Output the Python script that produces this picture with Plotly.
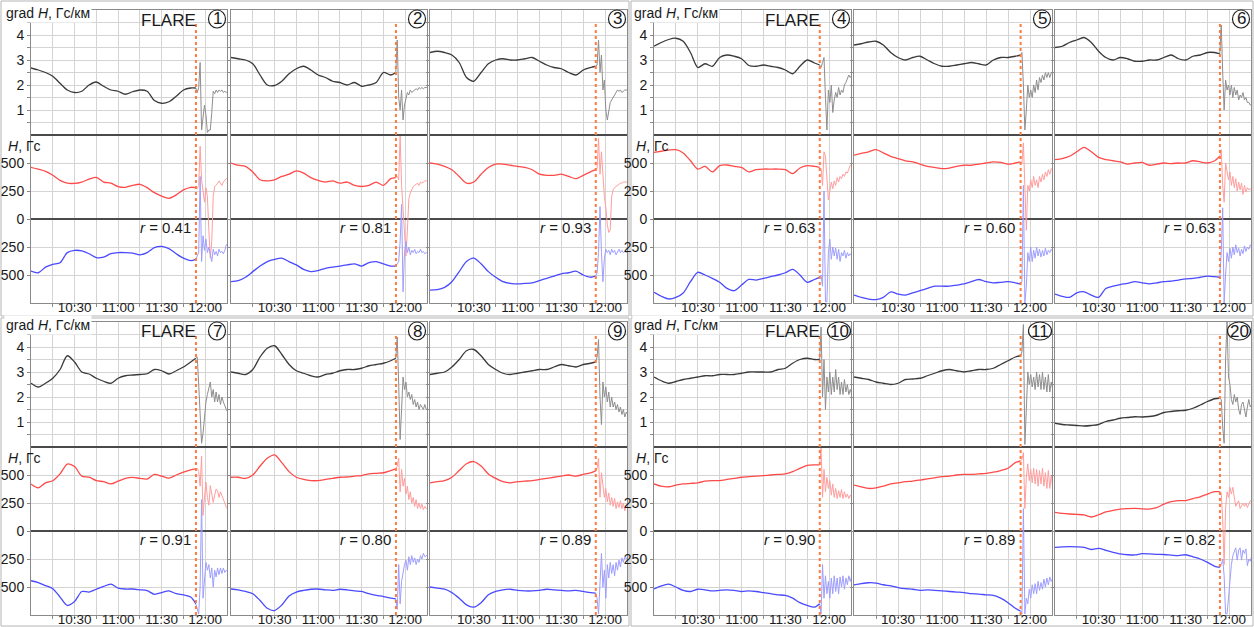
import plotly.graph_objects as go

W, H = 1254, 627

# ---------------------------------------------------------------- data
PANEL_IDS = ["1", "2", "3", "4", "5", "6", "7", "8", "9", "10", "11", "20"]
R_VALUES = ["0.41", "0.81", "0.93", "0.63", "0.60", "0.63",
            "0.91", "0.80", "0.89", "0.90", "0.89", "0.82"]
FLARE_PANELS = ["1", "4", "7", "10"]

# minutes after 10:00
FLARE_T = 113.6
T_PRE = [0, 5, 10, 15, 20, 25, 30, 35, 40, 45, 50, 55, 60, 65, 70, 75, 80,
         85, 90, 95, 100, 105, 110, 113.5]
T_POST = [113.5, 114.5, 115.5, 116.5, 117.5, 118.5, 119.5, 120.5, 121.5,
          122.5, 123.5, 124.5, 125.5, 126.5, 127.5, 128.5, 129.5, 130.5,
          131.5, 132.5, 133.5, 134.5, 135.5]
X_TICKS = [15, 30, 45, 60, 75, 90, 105, 120]
X_TICK_TEXT = ["", "10:30", "", "11:00", "", "11:30", "", "12:00"]

# grad H, G/km
GRAD_PRE = [
    [2.68, 2.6, 2.5, 2.35, 2.07, 1.8, 1.7, 1.75, 2.0, 2.12, 1.95, 1.8, 1.75, 1.63, 1.73, 1.8, 1.75, 1.38, 1.27, 1.33, 1.55, 1.8, 1.88, 1.88],
    [3.1, 3.05, 3.0, 2.85, 2.4, 2.0, 1.98, 2.15, 2.45, 2.65, 2.75, 2.6, 2.4, 2.3, 2.15, 2.1, 2.0, 2.1, 1.95, 2.0, 2.1, 2.5, 2.4, 2.5],
    [3.3, 3.35, 3.3, 3.2, 2.9, 2.3, 2.15, 2.5, 2.85, 3.0, 3.05, 3.0, 3.0, 3.05, 3.1, 2.95, 2.8, 2.7, 2.65, 2.5, 2.4, 2.6, 2.7, 2.75],
    [3.55, 3.7, 3.82, 3.87, 3.75, 3.3, 2.7, 2.85, 2.75, 3.1, 3.2, 3.15, 3.05, 2.78, 2.75, 2.8, 2.75, 2.7, 2.6, 2.45, 2.75, 3.0, 2.88, 2.8],
    [3.6, 3.65, 3.72, 3.75, 3.6, 3.3, 3.1, 3.0, 3.1, 3.15, 3.0, 2.85, 2.75, 2.75, 2.8, 2.85, 2.9, 2.85, 2.8, 3.0, 3.1, 3.1, 3.15, 3.2],
    [3.5, 3.55, 3.7, 3.8, 3.9, 3.7, 3.35, 3.1, 3.0, 3.1, 3.05, 2.95, 2.95, 3.0, 3.0, 3.1, 3.2, 3.05, 3.0, 3.15, 3.2, 3.3, 3.3, 3.25],
    [2.55, 2.4, 2.55, 2.75, 3.1, 3.65, 3.4, 3.0, 2.92, 2.75, 2.63, 2.55, 2.75, 2.85, 2.88, 2.9, 2.93, 3.1, 3.05, 2.92, 3.05, 3.2, 3.4, 3.55],
    [3.0, 2.95, 2.9, 3.1, 3.6, 3.95, 4.05, 3.7, 3.3, 3.05, 2.95, 2.85, 2.8, 2.9, 2.95, 3.05, 3.1, 3.1, 3.15, 3.25, 3.3, 3.35, 3.45, 3.55],
    [2.9, 2.95, 3.0, 3.2, 3.5, 3.85, 3.9, 3.65, 3.3, 3.1, 2.95, 2.9, 2.95, 3.0, 3.05, 3.1, 3.1, 3.2, 3.3, 3.25, 3.2, 3.3, 3.35, 3.4],
    [2.8, 2.65, 2.55, 2.62, 2.7, 2.75, 2.8, 2.85, 2.85, 2.9, 2.9, 2.9, 2.95, 3.0, 3.0, 3.0, 3.0, 3.1, 3.15, 3.35, 3.5, 3.55, 3.5, 3.5],
    [2.8, 2.75, 2.7, 2.6, 2.55, 2.5, 2.55, 2.7, 2.72, 2.75, 2.85, 2.95, 3.05, 3.1, 3.05, 3.0, 3.05, 3.1, 3.1, 3.15, 3.3, 3.45, 3.6, 3.65],
    [0.95, 0.9, 0.88, 0.86, 0.84, 0.86, 0.9, 1.02, 1.08, 1.15, 1.18, 1.21, 1.2, 1.22, 1.27, 1.38, 1.42, 1.45, 1.47, 1.55, 1.68, 1.82, 1.93, 1.95],
]
GRAD_POST = [
    [1.88, 1.7, 1.9, 2.9, 0.2, 0.6, 1.2, 0.8, 0.1, 0.2, 0.2, 0.9, 1.75, 1.65, 1.8, 1.7, 1.8, 1.75, 1.8, 1.7, 1.75, 1.7, 1.75],
    [2.5, 3.8, 1.5, 1.0, 1.8, 0.6, 1.2, 1.5, 1.7, 1.6, 1.8, 1.7, 1.75, 1.8, 1.85, 1.8, 1.9, 1.85, 1.9, 1.85, 1.9, 1.9, 1.9],
    [2.75, 2.8, 3.8, 2.5, 3.2, 1.8, 2.2, 1.0, 0.6, 1.0, 1.3, 1.4, 1.5, 1.6, 1.7, 1.8, 1.75, 1.8, 1.7, 1.75, 1.8, 1.8, 1.8],
    [2.8, 2.7, 2.9, 3.1, 1.5, 0.2, 1.8, 1.3, 2.0, 0.9, 1.4, 1.7, 1.5, 1.9, 1.6, 1.8, 1.7, 2.0, 2.1, 2.3, 2.4, 2.3, 2.4],
    [3.2, 3.3, 2.0, 0.2, 1.0, 2.0, 1.5, 1.8, 1.5, 2.0, 1.7, 2.2, 1.8, 2.3, 2.1, 2.4, 2.2, 2.5, 2.3, 2.5, 2.3, 2.5, 2.5],
    [3.25, 4.4, 2.5, 1.0, 2.2, 1.8, 2.0, 1.6, 2.0, 1.5, 1.9, 1.6, 1.8, 1.4, 1.6, 1.5, 1.7, 1.4, 1.5, 1.3, 1.3, 1.2, 1.2],
    [3.55, 3.6, 2.5, 1.0, 0.15, 0.55, 1.2, 1.8, 2.1, 2.3, 2.6, 2.0, 2.3, 1.8, 2.2, 1.8, 2.1, 1.7, 2.0, 1.8, 1.6, 1.5, 1.4],
    [3.55, 4.4, 2.5, 0.3, 1.5, 2.8, 2.3, 2.6, 2.0, 2.2, 1.9, 2.1, 1.7, 1.9, 1.6, 1.8, 1.5, 1.7, 1.6, 1.5, 1.7, 1.5, 1.5],
    [3.4, 3.6, 4.3, 2.0, 0.9, 2.6, 2.0, 2.4, 1.8, 2.2, 1.6, 2.0, 1.6, 1.8, 1.5, 1.7, 1.4, 1.6, 1.3, 1.5, 1.2, 1.4, 1.3],
    [3.5, 4.8, 2.0, 3.5, 1.5, 2.8, 2.2, 3.0, 2.1, 2.8, 2.2, 3.1, 2.3, 2.8, 2.1, 2.6, 2.1, 2.7, 2.2, 2.5, 2.1, 2.3, 2.1],
    [3.65, 3.8, 4.9, 0.1, 1.5, 3.0, 2.5, 2.9, 2.4, 2.8, 2.3, 3.0, 2.4, 2.9, 2.3, 3.0, 2.3, 2.8, 2.2, 2.9, 2.2, 2.6, 2.3],
    [1.95, 1.9, 0.8, 0.15, 3.5, 5.0, 2.8, 2.5, 1.9, 1.7, 2.1, 1.8, 2.0, 1.5, 1.3, 1.7, 1.8, 1.4, 1.2, 1.6, 1.9, 1.6, 1.7],
]

# positive-polarity field H, G
RED_PRE = [
    [462, 445, 425, 390, 345, 320, 318, 330, 355, 372, 330, 320, 290, 283, 300, 310, 280, 235, 205, 185, 215, 260, 283, 280],
    [500, 480, 470, 420, 350, 340, 350, 380, 400, 430, 410, 370, 345, 330, 340, 320, 330, 300, 290, 300, 330, 300, 360, 370],
    [500, 490, 470, 440, 380, 320, 330, 400, 460, 490, 490, 480, 470, 460, 440, 400, 390, 390, 400, 380, 360, 390, 420, 440],
    [595, 605, 615, 619, 590, 520, 446, 470, 420, 476, 482, 470, 460, 420, 440, 446, 446, 446, 440, 405, 455, 476, 470, 461],
    [570, 585, 600, 620, 590, 560, 540, 520, 510, 490, 470, 460, 450, 455, 470, 480, 480, 490, 500, 510, 505, 490, 500, 510],
    [530, 540, 560, 600, 640, 600, 550, 530, 520, 510, 490, 500, 505, 480, 490, 500, 495, 500, 500, 520, 510, 500, 520, 560],
    [420, 385, 430, 449, 510, 598, 575, 490, 480, 450, 440, 420, 445, 470, 478, 470, 464, 505, 490, 472, 500, 525, 545, 554],
    [480, 480, 470, 500, 580, 650, 680, 610, 530, 480, 460, 450, 450, 460, 470, 480, 482, 490, 495, 510, 515, 520, 540, 555],
    [430, 440, 450, 480, 540, 600, 620, 580, 510, 470, 440, 430, 440, 445, 450, 460, 470, 480, 490, 500, 490, 505, 520, 535],
    [420, 400, 395, 410, 420, 425, 430, 445, 450, 450, 460, 470, 480, 485, 490, 495, 500, 505, 510, 530, 560, 585, 590, 590],
    [410, 395, 380, 385, 400, 420, 430, 440, 446, 455, 465, 475, 485, 490, 500, 505, 505, 510, 515, 525, 540, 560, 610, 625],
    [167, 158, 152, 148, 143, 125, 145, 170, 185, 196, 200, 202, 198, 196, 208, 240, 262, 271, 272, 290, 305, 330, 351, 351],
]
RED_POST = [
    [280, 270, 300, 650, 350, 250, 150, 280, 200, -100, -350, -200, 200, 290, 300, 320, 340, 320, 300, 330, 350, 360, 370],
    [370, 380, 350, 740, 300, 100, -200, -330, -100, 180, 230, 260, 290, 300, 310, 320, 300, 330, 320, 330, 340, 340, 340],
    [440, 450, 720, 400, 600, 350, 200, 100, -50, -120, -100, 200, 260, 280, 290, 300, 310, 320, 320, 330, 330, 330, 340],
    [461, 450, 300, 600, 560, 300, 170, 250, 330, 270, 340, 300, 370, 330, 380, 360, 400, 380, 420, 410, 450, 480, 480],
    [510, 500, 680, 200, -100, 300, 250, 350, 280, 380, 300, 350, 280, 380, 330, 400, 350, 420, 380, 440, 400, 450, 430],
    [560, 620, 300, 150, 500, 400, 350, 420, 300, 380, 280, 360, 250, 330, 260, 320, 220, 300, 240, 280, 260, 270, 260],
    [554, 560, 530, 400, 670, 140, 300, 437, 300, 230, 405, 330, 256, 320, 375, 360, 300, 350, 320, 286, 250, 210, 196],
    [555, 580, 650, 350, 550, 400, 470, 330, 400, 280, 350, 250, 300, 220, 280, 200, 250, 200, 240, 190, 220, 200, 200],
    [535, 560, 650, 300, 520, 400, 300, 380, 260, 340, 230, 300, 220, 290, 200, 260, 210, 270, 200, 250, 180, 230, 200],
    [590, 740, 300, 550, 350, 480, 380, 450, 320, 420, 300, 380, 290, 360, 300, 370, 290, 350, 300, 330, 290, 320, 300],
    [625, 640, 700, 200, 480, 600, 450, 550, 430, 560, 420, 550, 400, 540, 420, 560, 400, 520, 380, 540, 380, 500, 380],
    [351, 340, 100, -300, 200, 350, 300, 390, 330, 390, 300, 220, 250, 270, 200, 220, 250, 220, 250, 210, 250, 270, 260],
]

# negative-polarity field H, G (drawn below zero)
BLUE_PRE = [
    [-465, -480, -430, -405, -390, -300, -280, -285, -310, -345, -340, -310, -300, -300, -305, -320, -300, -255, -245, -265, -310, -350, -372, -360],
    [-560, -550, -520, -470, -420, -380, -360, -350, -380, -410, -450, -470, -460, -440, -430, -420, -410, -400, -420, -390, -380, -400, -420, -420],
    [-635, -630, -610, -560, -470, -380, -350, -400, -470, -520, -560, -575, -580, -575, -570, -550, -530, -510, -490, -480, -465, -500, -520, -510],
    [-655, -690, -714, -700, -660, -560, -476, -500, -530, -565, -620, -640, -590, -540, -545, -530, -515, -500, -480, -450, -500, -565, -540, -521],
    [-680, -700, -715, -720, -700, -650, -670, -680, -660, -640, -620, -600, -600, -600, -590, -580, -560, -540, -560, -570, -565, -560, -570, -580],
    [-670, -690, -700, -660, -650, -680, -700, -620, -600, -585, -575, -560, -570, -580, -570, -560, -555, -545, -535, -530, -520, -510, -515, -520],
    [-444, -460, -488, -515, -590, -665, -630, -540, -545, -520, -495, -475, -510, -518, -518, -525, -533, -565, -550, -535, -560, -570, -590, -650],
    [-518, -525, -540, -560, -620, -690, -710, -660, -580, -545, -530, -520, -518, -525, -530, -520, -525, -535, -540, -560, -575, -585, -600, -607],
    [-500, -510, -520, -550, -600, -660, -680, -640, -570, -540, -525, -520, -530, -535, -535, -530, -520, -525, -530, -535, -530, -540, -550, -554],
    [-518, -490, -475, -500, -530, -540, -520, -525, -535, -530, -525, -530, -540, -535, -540, -550, -560, -570, -575, -600, -640, -665, -680, -650],
    [-482, -470, -462, -465, -480, -490, -505, -515, -520, -530, -525, -530, -535, -540, -545, -550, -560, -563, -570, -575, -600, -640, -690, -714],
    [-146, -142, -140, -142, -146, -165, -155, -172, -190, -205, -212, -214, -202, -205, -208, -210, -215, -220, -212, -230, -250, -280, -315, -324],
]
BLUE_POST = [
    [-360, -330, -300, 380, -380, -150, -280, -180, -300, -250, -330, -380, -270, -320, -290, -330, -270, -300, -290, -310, -280, -230, -220],
    [-420, -400, -380, -200, 130, -650, -300, -200, -300, -250, -320, -280, -300, -270, -310, -290, -300, -270, -300, -290, -310, -300, -300],
    [-510, -480, -300, 110, -300, -560, -350, -270, -300, -280, -320, -270, -300, -280, -320, -290, -270, -300, -280, -300, -290, -300, -290],
    [-521, -500, -600, 250, -740, -740, -300, -180, -360, -250, -330, -260, -360, -270, -380, -300, -330, -280, -350, -300, -330, -310, -330],
    [-580, -560, 300, -750, -600, -300, -380, -250, -380, -280, -350, -250, -330, -270, -340, -280, -330, -260, -320, -280, -300, -270, -290],
    [-520, -300, 100, -750, -500, -300, -380, -260, -350, -250, -320, -230, -300, -260, -330, -270, -310, -240, -290, -250, -270, -230, -250],
    [-650, -700, -740, -500, 280, -600, -400, -280, -350, -300, -420, -330, -500, -350, -410, -330, -390, -330, -380, -330, -370, -350, -360],
    [-607, -700, -300, -650, -450, -350, -300, -260, -350, -230, -300, -220, -280, -240, -300, -250, -280, -220, -250, -200, -230, -220, -210],
    [-554, -600, -740, -400, -200, -500, -350, -600, -300, -420, -280, -380, -300, -400, -280, -350, -260, -320, -240, -280, -230, -250, -230],
    [-650, -740, -300, -600, -400, -560, -450, -600, -420, -560, -400, -540, -420, -560, -410, -500, -400, -520, -420, -480, -400, -450, -400],
    [-714, -740, 200, -740, -600, -650, -520, -600, -480, -560, -470, -560, -450, -530, -460, -520, -430, -500, -420, -480, -410, -450, -420],
    [-324, -300, -250, -400, -740, -740, -600, -400, -300, -220, -180, -150, -260, -170, -150, -260, -170, -200, -160, -310, -250, -270, -220],
]

# ---------------------------------------------------------------- layout geometry (pixels)
PANEL_X = [(31, 227), (231, 427), (430, 627), (654, 851), (854, 1052), (1055, 1251)]
ROW_OFF = [0, 312]
GRAD_TOP, SPLIT, H_BOTTOM = 10, 135, 303

FONT = "Arial, Liberation Sans, sans-serif"
TXT = "#1a1a1a"
GRID = "#d4d4d4"
FRAME = "#8a8a8a"
SEP = "#4a4a4a"
C_BLACK, C_BLACK_L = "#3a3a3a", "#8e8e8e"
C_RED, C_RED_L = "#ff4a4a", "#ff9e9e"
C_BLUE, C_BLUE_L = "#4a4aff", "#9e9eff"
C_FLARE = "#ff7a3c"


def px(x):
    return x / W


def py(y):
    return 1 - y / H


fig = go.Figure()
layout = {}
shapes = []
annotations = []

for p, pid in enumerate(PANEL_IDS):
    row, col = divmod(p, 6)
    x0, x1 = PANEL_X[col]
    off = ROW_OFF[row]
    kg, kh = 2 * p + 1, 2 * p + 2
    first = col in (0, 3)
    xdom = [px(x0), px(x1)]

    common_x = dict(domain=xdom, range=[0, 135], tickvals=X_TICKS,
                    showgrid=True, gridcolor=GRID, gridwidth=1,
                    showline=True, mirror=True, linecolor=FRAME, linewidth=1,
                    zeroline=False, fixedrange=True, automargin=False)
    layout[f"xaxis{kg}"] = dict(common_x, anchor=f"y{kg}", ticktext=[""] * 8,
                                showticklabels=False, ticks="")
    layout[f"xaxis{kh}"] = dict(common_x, anchor=f"y{kh}", ticktext=X_TICK_TEXT,
                                showticklabels=True, ticks="outside", ticklen=3,
                                tickcolor=FRAME, ticklabelstandoff=-11,
                                tickfont=dict(family=FONT, size=13.5, color=TXT))

    common_y = dict(showticklabels=first, ticks="outside", ticklen=3, tickcolor=FRAME,
                    tickfont=dict(family=FONT, size=14, color=TXT),
                    showgrid=True, gridcolor=GRID, gridwidth=1,
                    showline=True, mirror=True, linecolor=FRAME, linewidth=1,
                    fixedrange=True, automargin=False)
    layout[f"yaxis{kg}"] = dict(
        common_y,
        domain=[py(off + SPLIT), py(off + GRAD_TOP)], range=[0, 5],
        anchor=f"x{kg}",
        tickvals=[0.5, 1, 1.5, 2, 2.5, 3, 3.5, 4, 4.5],
        ticktext=["", "1", "", "2", "", "3", "", "4", ""],
        zeroline=False)
    layout[f"yaxis{kh}"] = dict(
        common_y,
        domain=[py(off + H_BOTTOM), py(off + SPLIT)], range=[-750, 750],
        anchor=f"x{kh}",
        tickvals=[-500, -250, 0, 250, 500],
        ticktext=["500", "250", "0", "250", "500"],
        zeroline=True, zerolinecolor=SEP, zerolinewidth=1.6)

    xa_g, ya_g, xa_h, ya_h = f"x{kg}", f"y{kg}", f"x{kh}", f"y{kh}"

    # after the flare: pale, thin traces
    fig.add_trace(go.Scatter(x=T_POST, y=GRAD_POST[p], xaxis=xa_g, yaxis=ya_g,
                             mode="lines", line=dict(color=C_BLACK_L, width=1)))
    fig.add_trace(go.Scatter(x=T_POST, y=RED_POST[p], xaxis=xa_h, yaxis=ya_h,
                             mode="lines", line=dict(color=C_RED_L, width=1)))
    fig.add_trace(go.Scatter(x=T_POST, y=BLUE_POST[p], xaxis=xa_h, yaxis=ya_h,
                             mode="lines", line=dict(color=C_BLUE_L, width=1)))
    # before the flare
    fig.add_trace(go.Scatter(x=T_PRE, y=GRAD_PRE[p], xaxis=xa_g, yaxis=ya_g,
                             mode="lines",
                             line=dict(color=C_BLACK, width=1.3, shape="spline", smoothing=0.8)))
    fig.add_trace(go.Scatter(x=T_PRE, y=RED_PRE[p], xaxis=xa_h, yaxis=ya_h,
                             mode="lines",
                             line=dict(color=C_RED, width=1.3, shape="spline", smoothing=0.8)))
    fig.add_trace(go.Scatter(x=T_PRE, y=BLUE_PRE[p], xaxis=xa_h, yaxis=ya_h,
                             mode="lines",
                             line=dict(color=C_BLUE, width=1.3, shape="spline", smoothing=0.8)))

    # dark separator between the gradient and field parts
    shapes.append(dict(type="line", xref="paper", yref="paper",
                       x0=px(x0), x1=px(x1), y0=py(off + SPLIT), y1=py(off + SPLIT),
                       line=dict(color=SEP, width=2)))
    # flare onset
    shapes.append(dict(type="line", xref=xa_h, yref="paper",
                       x0=FLARE_T, x1=FLARE_T,
                       y0=py(off + H_BOTTOM), y1=py(off + 24),
                       line=dict(color=C_FLARE, width=2, dash="dot")))

    # circled panel number
    cx = x1 - (12 if len(pid) > 1 else 10)
    rx = 11.5 if len(pid) > 1 else 8.5
    cy = off + 19
    shapes.append(dict(type="circle", xref="paper", yref="paper",
                       x0=px(cx - rx), x1=px(cx + rx), y0=py(cy + 9), y1=py(cy - 9),
                       line=dict(color="#222222", width=1.2), fillcolor="white"))
    annotations.append(dict(xref="paper", yref="paper", x=px(cx), y=py(cy),
                            text=pid, showarrow=False, xanchor="center", yanchor="middle",
                            font=dict(family=FONT, size=17, color=TXT)))

    if pid in FLARE_PANELS:
        annotations.append(dict(xref="paper", yref="paper", x=px(x1 - 29), y=py(off + 20),
                                text="FLARE", showarrow=False, xanchor="right",
                                yanchor="middle",
                                font=dict(family=FONT, size=17, color=TXT)))

    annotations.append(dict(xref=xa_h, yref=ya_h, x=FLARE_T - 2.2, y=-75,
                            text=f"<i>r</i> = {R_VALUES[p]}", showarrow=False,
                            xanchor="right", yanchor="middle",
                            font=dict(family=FONT, size=15, color=TXT)))

# outer frames of the four panel groups
for gx0, gx1 in [(1, 629), (631, 1253)]:
    for gy0, gy1 in [(1, 316), (318, 626)]:
        shapes.append(dict(type="rect", xref="paper", yref="paper", layer="below",
                           x0=px(gx0), x1=px(gx1), y0=py(gy1), y1=py(gy0),
                           line=dict(color="#b5b5b5", width=1)))

# axis titles of each group
for off in ROW_OFF:
    for lx in (4, 632):
        annotations.append(dict(xref="paper", yref="paper", x=px(lx), y=py(off + 13),
                                text="grad <i>H</i>, Гс/км", showarrow=False,
                                xanchor="left", yanchor="middle", bgcolor="white",
                                borderpad=1,
                                font=dict(family=FONT, size=14, color=TXT)))
        annotations.append(dict(xref="paper", yref="paper", x=px(lx + 2), y=py(off + 146),
                                text="<i>H</i>, Гс", showarrow=False,
                                xanchor="left", yanchor="middle",
                                font=dict(family=FONT, size=14, color=TXT)))

fig.update_layout(
    width=W, height=H,
    margin=dict(l=0, r=0, t=0, b=0, autoexpand=False),
    paper_bgcolor="white", plot_bgcolor="white",
    showlegend=False, hovermode=False,
    shapes=shapes, annotations=annotations,
    **layout,
)

fig.write_html("out.html")
